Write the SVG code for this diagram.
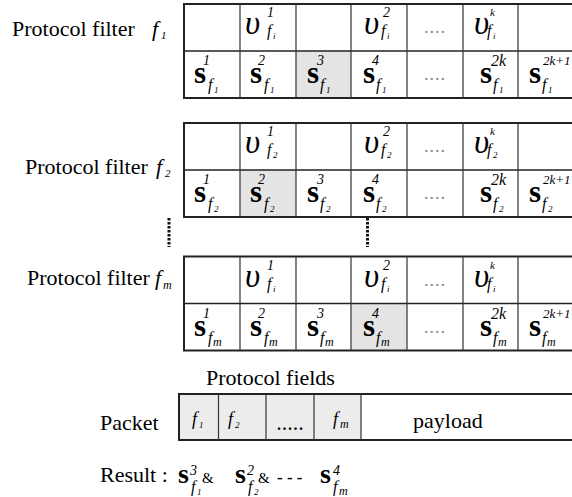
<svg xmlns="http://www.w3.org/2000/svg" width="572" height="497" viewBox="0 0 572 497">
<style>
text { font-family: "Liberation Serif", "Times New Roman", serif; fill: #000; }
.lbl { font-size: 22px; }
.it { font-style: italic; }
.lf { font-size: 22px; font-style: italic; }
.li { font-size: 11px; font-style: italic; }
.s { font-size: 31px; font-weight: bold; }
.rs { font-size: 28px; font-weight: bold; }
.u { font-size: 33px; font-style: italic; }
.sup { font-size: 14px; font-style: italic; }
.supk { font-size: 11px; font-style: italic; }
.sup2 { font-size: 16px; font-style: italic; }
.sup3 { font-size: 13px; font-style: italic; }
.sub { font-size: 16px; font-style: italic; }
.idx { font-size: 9px; font-style: italic; }
.idxm { font-size: 12px; font-style: italic; }
.dots { font-size: 18px; fill: #888; letter-spacing: 1px; }
.outer { stroke: #222; stroke-width: 2; fill: none; }
.mid { stroke: #222; stroke-width: 1.6; fill: none; }
.inner { stroke: #333; stroke-width: 1.2; fill: none; }
.hl { fill: #e4e4e4; }
.pk { fill: #ececec; }
.vdots { stroke: #111; stroke-width: 3; stroke-dasharray: 2.5 1.5; fill: none; }
</style>
<defs>
<g id="grid">
<path class="outer" d="M183,0H574M183,94H574M184,0V94"/>
<path class="mid" d="M184,47H574"/>
<path class="inner" d="M240,0V94M296,0V94M351,0V94M407,0V94M463,0V94M518,0V94"/>
</g>
</defs>

<g id="filter-f1">
<text class="lbl" x="12" y="36">Protocol filter</text>
<text class="lf" x="152" y="36">f</text><text class="li" x="161" y="39">1</text>
<rect class="hl" x="296" y="51" width="55" height="47"/>
<use href="#grid" transform="translate(0,4)"/>
<g transform="translate(0,4)">
<text class="u" x="245" y="30">υ</text><text class="sup" x="267" y="13">1</text><text class="sub" x="267" y="32">f</text><text class="idx" x="273" y="35">i</text>
<text class="u" x="364" y="30">υ</text><text class="sup" x="383" y="13">2</text><text class="sub" x="381" y="32">f</text><text class="idx" x="387" y="35">i</text>
<text class="dots" x="435" y="29" text-anchor="middle">....</text>
<text class="u" x="474" y="30">υ</text><text class="supk" x="490" y="12">k</text><text class="sub" x="487" y="32">f</text><text class="idx" x="493" y="35">i</text>
<text class="s" x="194" y="79">s</text><text class="sup" x="203" y="61">1</text><text class="sub" x="208" y="86">f</text><text class="idx" x="214" y="89">1</text>
<text class="s" x="250" y="79">s</text><text class="sup" x="258" y="61">2</text><text class="sub" x="264" y="86">f</text><text class="idx" x="270" y="89">1</text>
<text class="s" x="307" y="79">s</text><text class="sup" x="317" y="61">3</text><text class="sub" x="320" y="86">f</text><text class="idx" x="326" y="89">1</text>
<text class="s" x="363" y="79">s</text><text class="sup" x="372" y="61">4</text><text class="sub" x="376" y="86">f</text><text class="idx" x="382" y="89">1</text>
<text class="dots" x="435" y="76" text-anchor="middle">....</text>
<text class="s" x="480" y="79">s</text><text class="sup2" x="491" y="62">2k</text><text class="sub" x="493" y="86">f</text><text class="idx" x="499" y="89">1</text>
<text class="s" x="529" y="79">s</text><text class="sup3" x="543" y="61">2k+1</text><text class="sub" x="542" y="86">f</text><text class="idx" x="548" y="89">1</text>
</g>
</g>

<g id="filter-f2">
<text class="lbl" x="25" y="174">Protocol filter</text>
<text class="lf" x="156" y="174">f</text><text class="li" x="165" y="177">2</text>
<rect class="hl" x="240" y="170" width="56" height="47"/>
<use href="#grid" transform="translate(0,123)"/>
<g transform="translate(0,123)">
<text class="u" x="245" y="30">υ</text><text class="sup" x="267" y="13">1</text><text class="sub" x="267" y="32">f</text><text class="idx" x="273" y="35">2</text>
<text class="u" x="364" y="30">υ</text><text class="sup" x="383" y="13">2</text><text class="sub" x="381" y="32">f</text><text class="idx" x="387" y="35">2</text>
<text class="dots" x="435" y="29" text-anchor="middle">....</text>
<text class="u" x="474" y="30">υ</text><text class="supk" x="490" y="12">k</text><text class="sub" x="487" y="32">f</text><text class="idx" x="493" y="35">2</text>
<text class="s" x="194" y="79">s</text><text class="sup" x="203" y="61">1</text><text class="sub" x="208" y="86">f</text><text class="idx" x="214" y="89">2</text>
<text class="s" x="250" y="79">s</text><text class="sup" x="258" y="61">2</text><text class="sub" x="264" y="86">f</text><text class="idx" x="270" y="89">2</text>
<text class="s" x="307" y="79">s</text><text class="sup" x="317" y="61">3</text><text class="sub" x="320" y="86">f</text><text class="idx" x="326" y="89">2</text>
<text class="s" x="363" y="79">s</text><text class="sup" x="372" y="61">4</text><text class="sub" x="376" y="86">f</text><text class="idx" x="382" y="89">2</text>
<text class="dots" x="435" y="76" text-anchor="middle">....</text>
<text class="s" x="480" y="79">s</text><text class="sup2" x="491" y="62">2k</text><text class="sub" x="493" y="86">f</text><text class="idx" x="499" y="89">2</text>
<text class="s" x="529" y="79">s</text><text class="sup3" x="543" y="61">2k+1</text><text class="sub" x="542" y="86">f</text><text class="idx" x="548" y="89">2</text>
</g>
</g>

<g id="ellipsis-marks">
<path class="vdots" d="M169,218V247M367.5,218V247"/>
</g>

<g id="filter-fm">
<text class="lbl" x="27" y="285">Protocol filter</text>
<text class="lf" x="155" y="285">f</text><text class="idxm" x="163" y="289">m</text>
<rect class="hl" x="351" y="303.5" width="56" height="47"/>
<use href="#grid" transform="translate(0,256.5)"/>
<g transform="translate(0,256.5)">
<text class="u" x="245" y="30">υ</text><text class="sup" x="267" y="13">1</text><text class="sub" x="267" y="32">f</text><text class="idx" x="273" y="35">i</text>
<text class="u" x="364" y="30">υ</text><text class="sup" x="383" y="13">2</text><text class="sub" x="381" y="32">f</text><text class="idx" x="387" y="35">i</text>
<text class="dots" x="435" y="29" text-anchor="middle">....</text>
<text class="u" x="474" y="30">υ</text><text class="supk" x="490" y="12">k</text><text class="sub" x="487" y="32">f</text><text class="idx" x="493" y="35">i</text>
<text class="s" x="194" y="79">s</text><text class="sup" x="203" y="61">1</text><text class="sub" x="208" y="86">f</text><text class="idxm" x="213" y="89">m</text>
<text class="s" x="250" y="79">s</text><text class="sup" x="258" y="61">2</text><text class="sub" x="264" y="86">f</text><text class="idxm" x="269" y="89">m</text>
<text class="s" x="307" y="79">s</text><text class="sup" x="317" y="61">3</text><text class="sub" x="320" y="86">f</text><text class="idxm" x="325" y="89">m</text>
<text class="s" x="363" y="79">s</text><text class="sup" x="372" y="61">4</text><text class="sub" x="376" y="86">f</text><text class="idxm" x="381" y="89">m</text>
<text class="dots" x="435" y="76" text-anchor="middle">....</text>
<text class="s" x="480" y="79">s</text><text class="sup2" x="491" y="62">2k</text><text class="sub" x="493" y="86">f</text><text class="idxm" x="498" y="89">m</text>
<text class="s" x="529" y="79">s</text><text class="sup3" x="543" y="61">2k+1</text><text class="sub" x="542" y="86">f</text><text class="idxm" x="547" y="89">m</text>
</g>
</g>

<g id="packet">
<text class="lbl" x="206" y="385">Protocol fields</text>
<text class="lbl" x="100" y="430">Packet</text>
<rect class="pk" x="179" y="394" width="182" height="46"/>
<path class="outer" d="M178,394H574M178,440H574M179,394V440"/>
<path class="inner" d="M218.5,394V440M266,394V440M314,394V440M361,394V440"/>
<text class="it" font-size="18" x="192" y="425">f</text><text class="idx" font-size="11" x="199" y="428">1</text>
<text class="it" font-size="18" x="228" y="425">f</text><text class="idx" font-size="11" x="235" y="428">2</text>
<text font-size="16" font-weight="bold" x="277" y="430" letter-spacing="1.5">.....</text>
<text class="it" font-size="18" x="333" y="425">f</text><text class="idxm" x="340" y="428">m</text>
<text class="lbl" x="413" y="428">payload</text>
</g>

<g id="result">
<text class="lbl" x="100" y="482">Result :</text>
<text class="rs" x="178" y="483">s</text><text class="sup" font-size="15" x="190" y="475">3</text><text class="sub" x="191" y="492">f</text><text class="idx" x="197" y="495">1</text>
<text font-size="15" x="202" y="483">&amp;</text>
<text class="rs" x="235" y="483">s</text><text class="sup" font-size="15" x="247" y="475">2</text><text class="sub" x="248" y="492">f</text><text class="idx" x="254" y="495">2</text>
<text font-size="15" x="258" y="483">&amp;</text>
<text font-size="17" font-weight="bold" x="277" y="483">- - -</text>
<text class="rs" x="320" y="483">s</text><text class="sup" font-size="15" x="333" y="475">4</text><text class="sub" x="333" y="492">f</text><text class="idxm" x="339" y="495">m</text>
</g>
</svg>
